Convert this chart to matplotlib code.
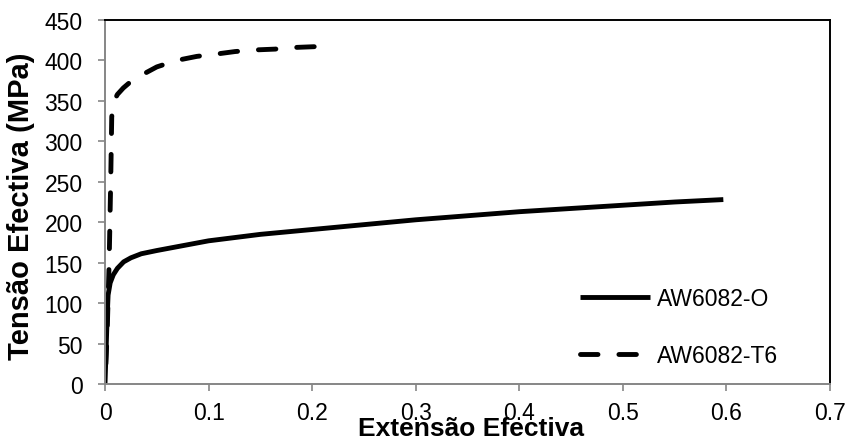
import matplotlib
matplotlib.use("Agg")
import matplotlib.pyplot as plt
import numpy as np

plt.rcParams['font.family'] = ['Liberation Sans', 'DejaVu Sans']

# AW6082-O (annealed)
ext_o = [0.0, 0.001, 0.002, 0.003, 0.005, 0.008, 0.012, 0.018, 0.025, 0.035,
         0.05, 0.075, 0.1, 0.15, 0.2, 0.25, 0.3, 0.35, 0.4, 0.45, 0.5, 0.55, 0.597]
ten_o = [0, 40, 80, 110, 125, 135, 143, 151, 156, 161,
         165, 171, 177, 185, 191, 197, 203, 208, 213, 217, 221, 225, 228]

# AW6082-T6
ext_t6 = [0.0, 0.002, 0.004, 0.0055, 0.0065, 0.008, 0.012, 0.0177, 0.025, 0.034,
          0.05, 0.069, 0.0886, 0.108, 0.1256, 0.145, 0.164, 0.182, 0.202]
ten_t6 = [0, 60, 150, 250, 330, 348, 358, 366, 374, 381,
          392, 400, 405, 408, 411, 413, 414, 416, 417]

xticks = [0, 0.1, 0.2, 0.3, 0.4, 0.5, 0.6, 0.7]
xticklabels = ['0', '0.1', '0.2', '0.3', '0.4', '0.5', '0.6', '0.7']
yticks = [0, 50, 100, 150, 200, 250, 300, 350, 400, 450]

fig = plt.figure(figsize=(8.5, 4.39), dpi=100)
ax = fig.add_axes([105/850, 1-385/439, 725/850, 364/439])
ax.set_xlim(0, 0.7)
ax.set_ylim(0, 450)

lw = 3.5
on, off = 3.6, 4.3

# shift the dash pattern so the dashed curve ends on a dash, like the original
pix = ax.transData.transform(np.column_stack([ext_t6, ten_t6]))
length_pt = np.sum(np.hypot(*np.diff(pix, axis=0).T)) * 72 / fig.dpi
period = (on + off) * lw
offset = (on * lw - length_pt) % period

ax.plot(ext_o, ten_o, color='black', lw=lw, solid_capstyle='butt', label='AW6082-O')
ax.plot(ext_t6, ten_t6, color='black', lw=lw, linestyle=(offset / lw, (on, off)),
        dash_capstyle='round', label='AW6082-T6')

ax.set_xticks(xticks)
ax.set_xticklabels(xticklabels)
ax.set_yticks(yticks)

grey = '#868686'
ax.spines['left'].set_color(grey)
ax.spines['bottom'].set_color(grey)
ax.spines['top'].set_color('black')
ax.spines['right'].set_color('black')
for s in ax.spines.values():
    s.set_linewidth(1.4)
ax.tick_params(direction='out', length=5, width=1.2, color=grey,
               labelsize=16.5, labelcolor='black')
ax.tick_params(axis='x', pad=7)
ax.tick_params(axis='y', pad=11)

ax.set_xlabel('Extensão Efectiva', fontsize=19, fontweight='bold', va='baseline')
ax.xaxis.set_label_coords(0.505, -0.14)
ax.set_ylabel('Tensão Efectiva (MPa)', fontsize=21, fontweight='bold', va='center')
ax.yaxis.set_label_coords(-0.116, 0.49)

leg = ax.legend(loc='center left', bbox_to_anchor=((580-105)/725, (385-328)/364),
                frameon=False, fontsize=16.5, handlelength=3.05, handletextpad=0.3,
                labelspacing=1.5, borderpad=0, borderaxespad=0)
leg.get_lines()[1].set_linestyle((0, (on, off)))

fig.savefig('out.png', dpi=100)
